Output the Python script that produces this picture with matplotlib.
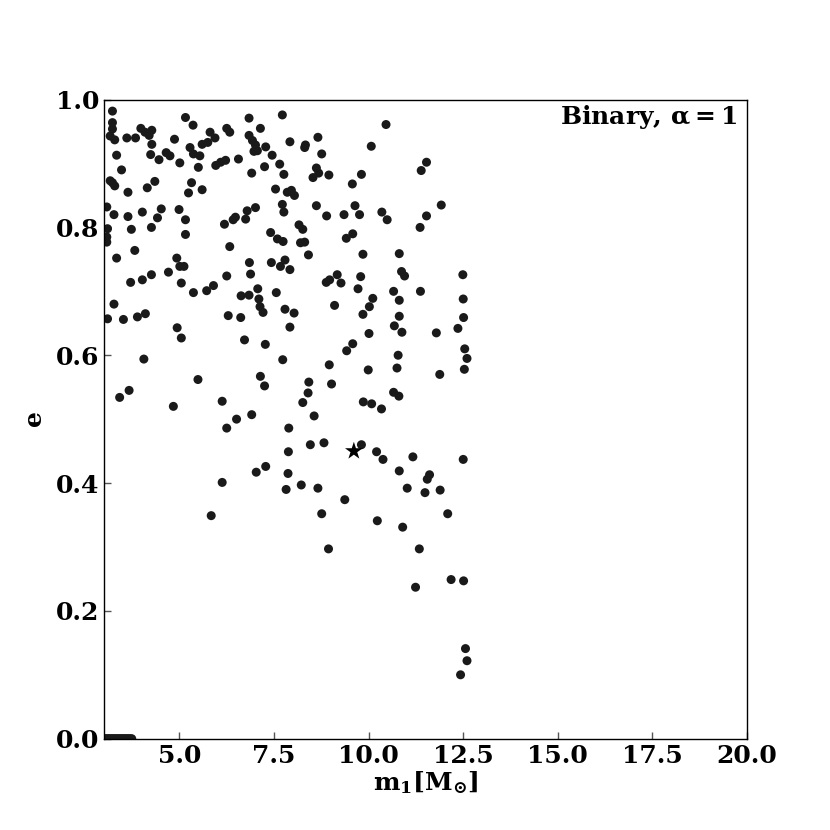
import matplotlib
matplotlib.use("Agg")
import matplotlib.pyplot as plt
import numpy as np

plt.rcParams['font.family'] = ['DejaVu Serif']
plt.rcParams['font.weight'] = 'bold'
plt.rcParams['mathtext.fontset'] = 'dejavuserif'

m1 = [
    3.23, 3.23, 3.23, 3.17, 3.29, 3.61, 3.84, 3.98, 4.09, 4.20, 4.27, 4.27, 4.87, 5.16, 5.36,
    5.28, 5.37, 5.54, 5.60, 5.75, 5.81, 5.94, 6.25, 6.33, 6.84, 7.14, 7.72, 7.92, 6.84, 6.93,
    7.01, 7.06, 6.97, 7.28, 7.45, 7.65, 7.76, 7.25, 6.91, 6.56, 6.22, 6.09, 5.96, 5.50, 5.01,
    4.75, 4.65, 4.46, 4.24, 3.34, 3.47, 3.17, 3.23, 3.29, 3.64, 4.15, 4.35, 5.32, 5.24, 5.60,
    7.54, 7.85, 7.72, 7.76, 6.79, 7.01, 6.75, 6.48, 6.42, 6.19, 4.99, 5.16, 5.16, 4.52, 4.42,
    4.26, 4.02, 3.64, 3.27, 3.08, 3.10, 3.08, 3.08, 3.73, 3.82, 3.34, 4.93, 6.33, 7.41, 7.59,
    7.74,
    10.46, 8.33, 8.31, 8.66, 8.76, 10.07, 8.62, 8.68, 8.53, 8.95, 9.81, 9.57, 11.53, 11.39,
    7.96, 8.04, 8.62, 8.89, 9.35, 9.64, 9.76, 10.35, 10.49, 11.92, 11.53, 11.36, 8.16, 8.26,
    8.20, 8.31, 8.41, 9.41, 9.58, 9.85, 10.81,
    5.01, 5.12, 6.85, 6.88, 7.43, 7.79, 7.67, 7.92, 3.71, 4.02, 4.26, 4.71, 5.05, 6.25, 5.90,
    5.72, 5.37, 6.63, 6.84, 7.07, 7.10, 7.56, 7.13, 7.21, 7.79, 7.92, 3.27, 3.10, 3.52, 3.89,
    4.10, 6.29, 6.62, 4.94, 5.05, 6.72, 7.27, 7.73, 4.06, 5.49, 7.14, 7.25, 3.67, 3.42, 6.13,
    4.84, 6.51, 6.91,
    8.88, 8.97, 9.17, 9.27, 9.79, 9.72, 10.87, 10.95, 12.49, 10.66, 11.37, 10.11, 10.81, 12.50,
    9.10, 10.02, 9.85, 8.03, 10.81, 12.51, 10.68, 10.88, 12.36, 10.01, 11.79, 9.58, 9.42, 12.54,
    12.60, 10.78, 8.96, 9.99, 10.75, 12.53, 11.88, 8.42, 9.02, 8.40, 8.26, 10.66, 10.80, 9.86,
    10.08, 10.34, 8.56,
    6.25, 7.89, 7.88, 7.28, 7.03, 7.87, 7.82, 6.13, 5.84,
    8.46, 8.82, 9.81, 10.21, 10.38, 11.17, 12.50, 10.81, 11.61, 11.55, 8.22, 8.66, 11.02, 11.49,
    11.89, 9.37, 8.76, 12.09, 10.23, 10.90, 8.94, 11.34, 12.18, 12.51,
    11.24, 12.56, 12.60, 12.43,
    3.02, 3.06, 3.10, 3.14, 3.18, 3.22, 3.26, 3.30, 3.34, 3.38, 3.42, 3.46, 3.50, 3.54,
    3.58, 3.62, 3.66, 3.70, 3.74,
]

ecc = [
    0.982, 0.964, 0.954, 0.943, 0.937, 0.940, 0.940, 0.955, 0.949, 0.944, 0.952, 0.930, 0.938, 0.972, 0.960,
    0.925, 0.915, 0.912, 0.930, 0.933, 0.949, 0.940, 0.955, 0.949, 0.971, 0.955, 0.976, 0.934, 0.944, 0.936,
    0.929, 0.920, 0.919, 0.926, 0.913, 0.899, 0.883, 0.895, 0.885, 0.907, 0.905, 0.902, 0.897, 0.894, 0.901,
    0.912, 0.917, 0.906, 0.914, 0.913, 0.890, 0.873, 0.870, 0.865, 0.855, 0.862, 0.872, 0.870, 0.854, 0.859,
    0.860, 0.855, 0.836, 0.824, 0.826, 0.831, 0.813, 0.816, 0.812, 0.805, 0.828, 0.812, 0.789, 0.829, 0.815,
    0.800, 0.824, 0.817, 0.820, 0.832, 0.798, 0.785, 0.777, 0.797, 0.764, 0.752, 0.752, 0.770, 0.792, 0.782,
    0.778,
    0.961, 0.929, 0.925, 0.941, 0.915, 0.927, 0.893, 0.885, 0.878, 0.882, 0.883, 0.868, 0.902, 0.889,
    0.858, 0.850, 0.834, 0.818, 0.820, 0.834, 0.820, 0.824, 0.812, 0.835, 0.818, 0.800, 0.804, 0.797,
    0.776, 0.777, 0.757, 0.783, 0.790, 0.758, 0.759,
    0.739, 0.739, 0.745, 0.727, 0.745, 0.749, 0.739, 0.734, 0.714, 0.718, 0.726, 0.730, 0.713, 0.724, 0.709,
    0.701, 0.698, 0.693, 0.694, 0.704, 0.688, 0.698, 0.676, 0.667, 0.672, 0.644, 0.680, 0.657, 0.656, 0.660,
    0.665, 0.662, 0.659, 0.643, 0.627, 0.624, 0.617, 0.593, 0.594, 0.562, 0.567, 0.552, 0.545, 0.534, 0.528,
    0.520, 0.500, 0.507,
    0.714, 0.718, 0.726, 0.713, 0.723, 0.704, 0.731, 0.724, 0.726, 0.700, 0.700, 0.689, 0.686, 0.688,
    0.678, 0.676, 0.664, 0.666, 0.661, 0.659, 0.646, 0.636, 0.642, 0.634, 0.635, 0.618, 0.607, 0.610,
    0.595, 0.600, 0.585, 0.577, 0.580, 0.578, 0.570, 0.558, 0.555, 0.541, 0.526, 0.542, 0.536, 0.527,
    0.524, 0.516, 0.505,
    0.486, 0.486, 0.449, 0.426, 0.417, 0.415, 0.390, 0.401, 0.349,
    0.460, 0.463, 0.460, 0.449, 0.437, 0.441, 0.437, 0.419, 0.413, 0.406, 0.397, 0.392, 0.392, 0.385,
    0.389, 0.374, 0.352, 0.352, 0.341, 0.331, 0.297, 0.297, 0.249, 0.247,
    0.237, 0.141, 0.122, 0.100,
    0.0, 0.0, 0.0, 0.0, 0.0, 0.0, 0.0, 0.0, 0.0, 0.0, 0.0, 0.0, 0.0, 0.0,
    0.0, 0.0, 0.0, 0.0, 0.0,
]

star_m1 = [9.61]
star_e = [0.450]

x_ticks = [5.0, 7.5, 10.0, 12.5, 15.0, 17.5, 20.0]
y_ticks = [0.0, 0.2, 0.4, 0.6, 0.8, 1.0]

fig = plt.figure(figsize=(8.3, 8.3), dpi=100)
ax = fig.add_subplot(111)

ax.scatter(m1, ecc, s=42, color='#1a1a1a', edgecolors='none', zorder=2)
ax.scatter(star_m1, star_e, s=180, marker='*', color='black', edgecolors='none', zorder=3)

ax.set_xlim(3.0, 20.0)
ax.set_ylim(0.0, 1.0)
ax.set_xticks(x_ticks)
ax.set_yticks(y_ticks)
ax.set_xticklabels([f"{v:.1f}" for v in x_ticks])
ax.set_yticklabels([f"{v:.1f}" for v in y_ticks])
ax.tick_params(direction='in', length=5, width=1, color='#555555', labelsize=18,
               top=False, right=False)
for lab in ax.get_xticklabels() + ax.get_yticklabels():
    lab.set_fontweight('bold')
for sp in ax.spines.values():
    sp.set_linewidth(1.0)

ax.set_xlabel(r'$\mathbf{m_1 [M_{\!\odot}\!]}$', fontsize=18, labelpad=1)
ax.set_ylabel(r'$\mathbf{e}$', fontsize=18, labelpad=6)

ax.text(0.985, 0.995, r'Binary, $\mathbf{\alpha = 1}$', transform=ax.transAxes,
        ha='right', va='top', fontsize=18, fontweight='bold')

fig.savefig('out.png', dpi=100)
